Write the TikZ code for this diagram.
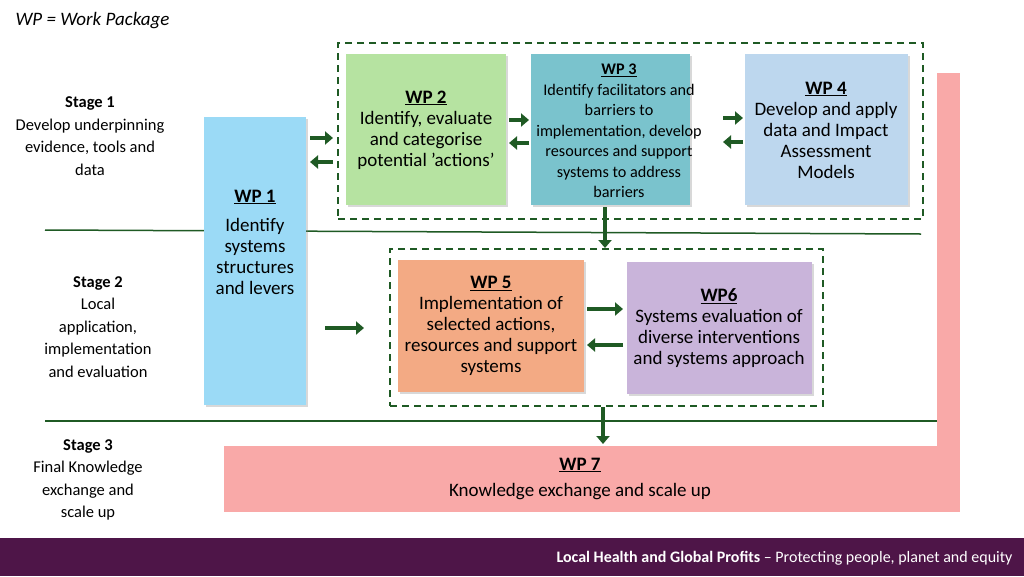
\documentclass[tikz,border=0pt]{standalone}
\usepackage{fontspec}
\setmainfont{Carlito}
\usetikzlibrary{arrows.meta,shadows}
\definecolor{dkgreen}{HTML}{1F5A24}
\definecolor{wpgreen}{HTML}{B6E3A1}
\definecolor{wpteal}{HTML}{7AC3CD}
\definecolor{wpblue}{HTML}{BDD7EE}
\definecolor{wpcyan}{HTML}{9BDAF6}
\definecolor{wppink}{HTML}{F9A9A8}
\definecolor{wporange}{HTML}{F3AA84}
\definecolor{wplilac}{HTML}{C9B4DA}
\definecolor{footer}{HTML}{4E1548}
\tikzset{
  wp/.style={anchor=north west, drop shadow={opacity=0.3,shadow xshift=2pt,shadow yshift=-2pt}},
  wptext/.style={inner sep=0pt, align=center, font=\fontsize{19}{21}\selectfont},
  stage/.style={align=center, font=\fontsize{16.5}{22.5}\selectfont},
  group/.style={draw=dkgreen, line width=2pt, dash pattern=on 7pt off 5pt, anchor=north west},
  flow/.style={-{Triangle[length=8pt,width=13pt]}, draw=dkgreen, line width=4.5pt},
  rule/.style={draw=dkgreen, line width=1.5pt}
}
\begin{document}
\begin{tikzpicture}[x=1pt,y=-1pt]
\useasboundingbox (0,0) rectangle (1024,576);
\fill[white] (0,0) rectangle (1024,576);

\node[anchor=west, font=\fontsize{19}{21}\selectfont\itshape] (key) at (12,21) {WP = Work Package};

% pink frame for WP 7
\fill[wppink] (937,73) rectangle (960,450);
\node[fill=wppink, minimum width=736pt, minimum height=66pt, anchor=north west] (wp7) at (224,446) {};
\node[wptext] (wp7t) at (580,465) {\textbf{\underline{WP 7}}};
\node[wptext] (wp7d) at (580,492) {Knowledge exchange and scale up};

% stage rules
\coordinate (r1a) at (45,230); \coordinate (r1b) at (921,234);
\coordinate (r2a) at (45,421); \coordinate (r2b) at (937,421);
\draw[rule] (r1a) -- (r1b);
\draw[rule] (r2a) -- (r2b);

% groups
\node[group, minimum width=585pt, minimum height=176pt] (g1) at (337,42) {};
\node[group, minimum width=433pt, minimum height=157pt] (g2) at (389,248) {};

% work packages
\node[wp, fill=wpcyan, minimum width=102pt, minimum height=288pt] (wp1) at (204,117) {};
\node[wptext] (wp1t) at (255,242) {\textbf{\underline{WP 1}}\\[8pt]Identify\\systems\\structures\\and levers};
\node[wp, fill=wpgreen, minimum width=160pt, minimum height=151pt] (wp2) at (346,54) {};
\node[wptext] (wp2t) at (426,130) {\textbf{\underline{WP 2}}\\Identify, evaluate\\and categorise\\potential 'actions'};
\node[wp, fill=wpteal, minimum width=159pt, minimum height=151pt] (wp3) at (531,54) {};
\node[wptext, font=\fontsize{16.2}{20.5}\selectfont] (wp3t) at (619,131) {\textbf{\underline{WP 3}}\\Identify facilitators and\\barriers to\\implementation, develop\\resources and support\\systems to address\\barriers};
\node[wp, fill=wpblue, minimum width=163pt, minimum height=151pt] (wp4) at (745,54) {};
\node[wptext] (wp4t) at (826,130) {\textbf{\underline{WP 4}}\\Develop and apply\\data and Impact\\Assessment\\Models};
\node[wp, fill=wporange, minimum width=186pt, minimum height=132pt] (wp5) at (398,260) {};
\node[wptext] (wp5t) at (491,326) {\textbf{\underline{WP 5}}\\Implementation of\\selected actions,\\resources and support\\systems};
\node[wp, fill=wplilac, minimum width=185pt, minimum height=132pt] (wp6) at (627,262) {};
\node[wptext] (wp6t) at (719,328) {\textbf{\underline{WP6}}\\Systems evaluation of\\diverse interventions\\and systems approach};

% stages
\node[stage] (s1) at (90,136) {\textbf{Stage 1}\\Develop underpinning\\evidence, tools and\\data};
\node[stage] (s2) at (98,327) {\textbf{Stage 2}\\Local\\application,\\implementation\\and evaluation};
\node[stage] (s3) at (88,480) {\textbf{Stage 3}\\Final Knowledge\\exchange and\\scale up};

% arrows
\coordinate (a1) at (310,138); \coordinate (a2) at (333,138);
\coordinate (a3) at (333,162); \coordinate (a4) at (310,162);
\draw[flow] (a1) -- (a2);
\draw[flow] (a3) -- (a4);
\coordinate (b1) at (509,120); \coordinate (b2) at (529,120);
\coordinate (b3) at (529,143); \coordinate (b4) at (509,143);
\draw[flow] (b1) -- (b2);
\draw[flow] (b3) -- (b4);
\coordinate (c1) at (723,118); \coordinate (c2) at (743,118);
\coordinate (c3) at (743,142); \coordinate (c4) at (723,142);
\draw[flow] (c1) -- (c2);
\draw[flow] (c3) -- (c4);
\coordinate (d1) at (325,328); \coordinate (d2) at (364,328);
\draw[flow] (d1) -- (d2);
\coordinate (e1) at (587,309); \coordinate (e2) at (623,309);
\coordinate (e3) at (623,345); \coordinate (e4) at (587,345);
\draw[flow] (e1) -- (e2);
\draw[flow] (e3) -- (e4);
\draw[flow] (wp3.south -| 605,0) ++(0,2) -- (605,248);
\draw[flow] (g2.south -| 603,0) -- (603,444);

% footer
\fill[footer] (0,538) rectangle (1024,576);
\node[anchor=east, text=white, font=\fontsize{16}{18}\selectfont] (foot) at (1016,558) {\textbf{Local Health and Global Profits} -- Protecting people, planet and equity};
\end{tikzpicture}
\end{document}
